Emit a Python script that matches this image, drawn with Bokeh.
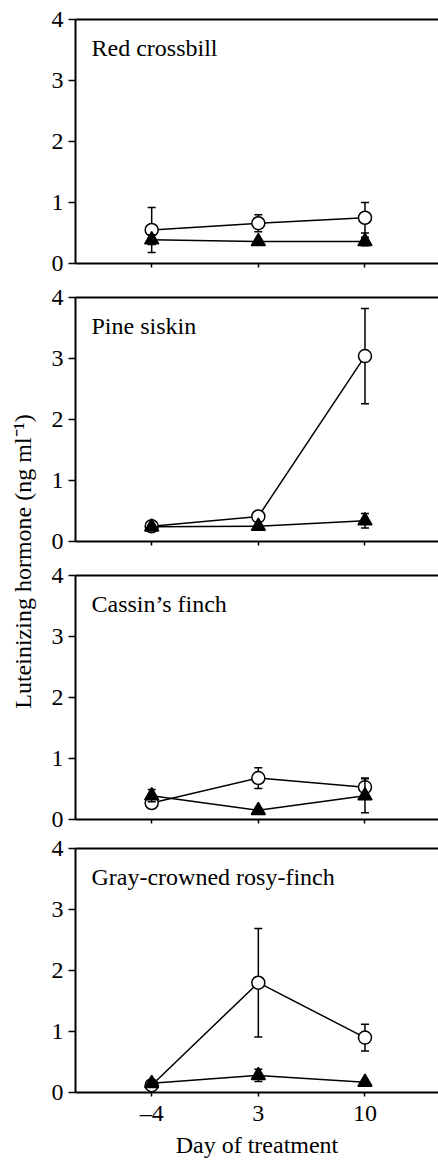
import math
from bokeh.plotting import figure
from bokeh.layouts import row, column
from bokeh.models import Range1d, FixedTicker, LinearAxis, Label
from bokeh.embed import file_html
from bokeh.resources import INLINE

# ---------------- data ----------------
days = [-4, 3, 10]
day_labels = {-4: "\u20134", 3: "3", 10: "10"}
y_ticks = [0, 1, 2, 3, 4]
species = ["Red crossbill", "Pine siskin", "Cassin\u2019s finch", "Gray-crowned rosy-finch"]

crossbill_open = [0.55, 0.66, 0.75]
crossbill_open_se = [0.37, 0.14, 0.25]
crossbill_filled = [0.39, 0.36, 0.36]
crossbill_filled_se = [0.08, 0.03, 0.07]

siskin_open = [0.25, 0.41, 3.04]
siskin_open_se = [0.03, 0.04, 0.78]
siskin_filled = [0.24, 0.25, 0.34]
siskin_filled_se = [0.03, 0.03, 0.12]

cassin_open = [0.27, 0.68, 0.53]
cassin_open_se = [0.05, 0.17, 0.15]
cassin_filled = [0.39, 0.15, 0.39]
cassin_filled_se = [0.10, 0.03, 0.28]

rosy_open = [0.12, 1.80, 0.90]
rosy_open_se = [0.03, 0.89, 0.22]
rosy_filled = [0.15, 0.28, 0.17]
rosy_filled_se = [0.03, 0.10, 0.02]

panels = [
    (species[0], crossbill_open, crossbill_open_se, crossbill_filled, crossbill_filled_se),
    (species[1], siskin_open, siskin_open_se, siskin_filled, siskin_filled_se),
    (species[2], cassin_open, cassin_open_se, cassin_filled, cassin_filled_se),
    (species[3], rosy_open, rosy_open_se, rosy_filled, rosy_filled_se),
]
y_title = "Luteinizing hormone (ng ml\u207b\u00b9)"
x_title = "Day of treatment"

# ---------------- style ----------------
FONT = "Liberation Serif"
FS = "24px"
LAB_W = 43
LEFT = 32
FRAME_W, FRAME_H = 363, 244
PX_PER_DAY = 15.236
X_START = -9
X_END = X_START + FRAME_W / PX_PER_DAY
PANEL_W = FRAME_W + LEFT
px_per_unit = FRAME_H / 4.0

borders = [(19, 17), (17, 17), (17, 17), (12, 68)]
total_h = sum(t + FRAME_H + b for t, b in borders)


def series(p, xs, vals, se, marker, fill, size):
    upper = [v + e for v, e in zip(vals, se)]
    lower = [v - e for v, e in zip(vals, se)]
    p.line(xs, vals, line_color="black", line_width=1.5)
    p.segment(x0=xs, y0=lower, x1=xs, y1=upper, line_color="black", line_width=1.5)
    p.scatter(xs, upper, marker="dash", size=8, line_color="black", line_width=1.5)
    p.scatter(xs, lower, marker="dash", size=8, line_color="black", line_width=1.5)
    p.scatter(xs, vals, marker=marker, size=size, fill_color=fill,
              line_color="black", line_width=1.5)


figs = []
for i, (name, o, ose, f, fse) in enumerate(panels):
    top, bottom = borders[i]
    last = i == len(panels) - 1
    p = figure(width=PANEL_W, height=top + FRAME_H + bottom,
               x_range=Range1d(X_START, X_END), y_range=Range1d(0, 4),
               toolbar_location=None, output_backend="svg",
               min_border_left=LEFT, min_border_right=0,
               min_border_top=top, min_border_bottom=bottom)
    p.outline_line_color = None
    p.grid.visible = False
    p.background_fill_color = "white"
    p.border_fill_color = "white"

    xa = p.xaxis[0]
    xa.ticker = FixedTicker(ticks=days)
    xa.axis_line_width = 2
    xa.major_tick_in = 0
    xa.major_tick_out = 4
    xa.major_tick_line_width = 1.5
    xa.minor_tick_line_color = None
    if last:
        xa.major_label_overrides = day_labels
        xa.major_label_text_font = FONT
        xa.major_label_text_font_size = FS
        xa.major_label_text_color = "black"
        xa.major_label_standoff = 3
        xa.axis_label = x_title
        xa.axis_label_text_font = FONT
        xa.axis_label_text_font_size = FS
        xa.axis_label_text_font_style = "normal"
        xa.axis_label_text_color = "black"
        xa.axis_label_standoff = 3
    else:
        xa.major_label_overrides = {d: "" for d in days}
        xa.major_label_text_font_size = "1px"
        xa.major_label_standoff = 0

    ya = p.yaxis[0]
    ya.ticker = FixedTicker(ticks=y_ticks)
    ya.axis_line_width = 2
    ya.major_tick_in = 0
    ya.major_tick_out = 7
    ya.major_tick_line_width = 1.5
    ya.minor_tick_line_color = None
    ya.major_label_text_font = FONT
    ya.major_label_text_font_size = FS
    ya.major_label_text_color = "black"
    ya.major_label_standoff = 5

    top_axis = LinearAxis(ticker=FixedTicker(ticks=[]), axis_line_width=2,
                          major_tick_line_color=None, minor_tick_line_color=None,
                          major_tick_out=0, major_tick_in=0,
                          major_label_text_font_size="1px", major_label_standoff=0)
    p.add_layout(top_axis, "above")

    series(p, days, o, ose, "circle", "white", 13)
    series(p, days, f, fse, "triangle", "black", 14)

    p.add_layout(Label(x=X_START + 16 / PX_PER_DAY, y=4 - 28.5 / px_per_unit,
                       text=name, text_font=FONT, text_font_size=FS,
                       text_color="black", text_baseline="alphabetic"))
    figs.append(p)

# left strip holding the shared y-axis title (ranges in pixels)
lab = figure(width=LAB_W, height=total_h, toolbar_location=None, output_backend="svg",
             x_range=Range1d(0, LAB_W), y_range=Range1d(0, total_h),
             x_axis_type=None, y_axis_type=None, min_border=0)
lab.outline_line_color = None
lab.grid.visible = False
lab.add_layout(Label(x=22, y=total_h - 561, text=y_title, angle=math.pi / 2,
                     text_font=FONT, text_font_size=FS, text_color="black",
                     text_align="center", text_baseline="middle"))

layout = row(lab, column(*figs))
open("out.html", "w").write(file_html(layout, INLINE))
